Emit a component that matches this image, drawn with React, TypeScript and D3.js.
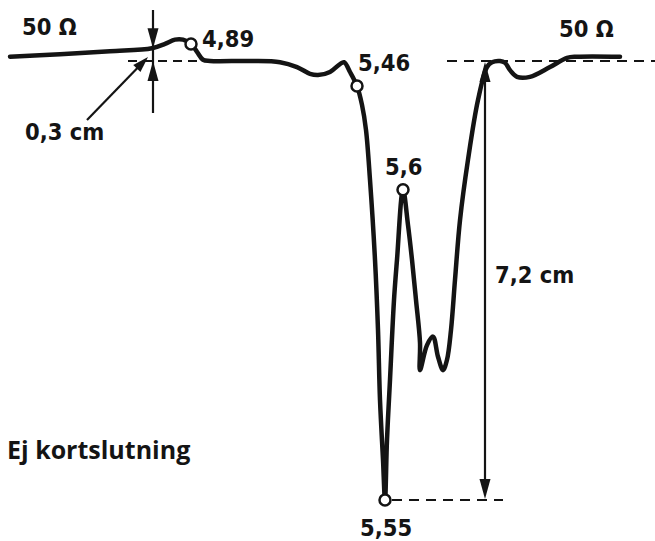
import React from 'react';
import * as d3 from 'd3';

// Trace: time (arbitrary units) vs deflection below the 50 Ω reference (cm)
const traceT = [0, 5, 10, 14.2, 15.5, 16.5, 17.3, 18.1, 18.7, 19.3, 20, 24, 27, 28.7, 30, 30.8, 32, 33, 33.4, 34, 34.7, 35.2, 35.6, 36, 36.5, 36.8, 37, 37.3, 37.5, 37.7, 38, 38.4, 38.7, 39.3, 39.8, 40.2, 40.6, 41, 41, 41.7, 42.3, 42.8, 43.3, 43.7, 44.1, 44.5, 45, 45.8, 46.8, 47.7, 48.2, 49, 49.5, 50, 50.7, 52, 54, 55.7, 56.7, 61];
const traceCm = [-0.07, -0.11, -0.16, -0.21, -0.28, -0.35, -0.35, -0.28, -0.15, -0.02, 0, 0, 0.02, 0.1, 0.21, 0.23, 0.18, 0.05, 0.02, 0.18, 0.41, 0.72, 1.13, 1.95, 3.26, 4.41, 5.56, 6.54, 7.2, 6.21, 5.23, 3.92, 3.26, 2.11, 2.69, 3.26, 3.92, 4.62, 5.07, 4.66, 4.52, 4.85, 5.07, 4.9, 4.41, 3.59, 2.61, 1.62, 0.64, 0.1, 0.02, 0, 0.03, 0.15, 0.26, 0.26, 0.1, -0.05, -0.07, -0.07];

// Marked points
const markerLabels = ['4,89', '5,46', '5,6', '5,55'];
const markerT = [18.1, 34.7, 39.3, 37.5];
const markerCm = [-0.28, 0.41, 2.11, 7.2];

// Annotations
const impedanceLabel = '50 Ω';
const offsetLabel = '0,3 cm';
const spanLabel = '7,2 cm';
const spanValue = 7.2;
const spanT = 47.5;
const offsetT = 14.3;
const offsetTop = -0.21;
const titleText = 'Ej kortslutning';

const W = 655;
const H = 541;
const ink = '#141414';

function arrowHead(tx: number, ty: number, angle: number, len = 18, half = 5.5) {
  const bx = tx - Math.cos(angle) * len;
  const by = ty - Math.sin(angle) * len;
  const px = -Math.sin(angle) * half;
  const py = Math.cos(angle) * half;
  return `M${tx},${ty}L${bx + px},${by + py}L${bx - px},${by - py}Z`;
}

export default function App() {
  const x = d3.scaleLinear().domain([0, 64]).range([10, 650]);
  const y = d3.scaleLinear().domain([0, spanValue]).range([61, 500]);

  const pts: [number, number][] = traceT.map((t, i) => [x(t), y(traceCm[i])]);
  const line = d3.line().curve(d3.curveCatmullRom.alpha(0.5));
  const d = line(pts) || '';

  const font = "'DejaVu Sans Condensed', 'Open Sans', sans-serif";
  const labelStyle: React.CSSProperties = { fontFamily: font, fontWeight: 700, fontSize: 23.5, fill: ink, fontStretch: 'condensed' };

  const ax = x(spanT);
  const ox = x(offsetT);

  const lx1 = 87, ly1 = 120, lx2 = ox - 5, ly2 = y(0) - 4;
  const la = Math.atan2(ly2 - ly1, lx2 - lx1);

  const markerOffsets: [number, number][] = [[11, 3], [1, -15], [-18, -15], [-25, 36]];

  return (
    <svg width={W} height={H} style={{ position: 'absolute', left: 0, top: 0, background: '#fff' }}>
      <rect width={W} height={H} fill="#fff" />
      {/* dashed reference lines */}
      <line x1={x(11.8)} x2={x(19)} y1={y(0)} y2={y(0)} stroke={ink} strokeWidth={2} strokeDasharray="9 6" />
      <line x1={x(43.7)} x2={W} y1={y(0)} y2={y(0)} stroke={ink} strokeWidth={2.2} strokeDasharray="10 7" />
      <line x1={x(37.5) + 7} x2={x(49.3)} y1={y(spanValue)} y2={y(spanValue)} stroke={ink} strokeWidth={2.2} strokeDasharray="10 7" />

      {/* trace */}
      <path d={d} fill="none" stroke={ink} strokeWidth={4.5} strokeLinejoin="round" strokeLinecap="round" />

      {/* 7.2 cm span arrow */}
      <line x1={ax} x2={ax} y1={y(0) + 10} y2={y(spanValue) - 10} stroke={ink} strokeWidth={2.2} />
      <path d={arrowHead(ax, y(0) + 1, -Math.PI / 2, 20, 5.5)} fill={ink} />
      <path d={arrowHead(ax, y(spanValue) - 1, Math.PI / 2, 20, 5.5)} fill={ink} />
      <text x={495} y={283} style={labelStyle}>{spanLabel}</text>

      {/* 0.3 cm offset marker */}
      <line x1={ox} x2={ox} y1={10} y2={113} stroke={ink} strokeWidth={2.2} />
      <path d={arrowHead(ox, y(offsetTop), Math.PI / 2, 20, 5.5)} fill={ink} />
      <path d={arrowHead(ox, y(0), -Math.PI / 2, 20, 5.5)} fill={ink} />
      <line x1={lx1} y1={ly1} x2={lx2 - Math.cos(la) * 10} y2={ly2 - Math.sin(la) * 10} stroke={ink} strokeWidth={2.2} />
      <path d={arrowHead(lx2, ly2, la, 16, 5)} fill={ink} />
      <text x={25} y={140} style={labelStyle}>{offsetLabel}</text>

      {/* markers */}
      {markerT.map((t, i) => (
        <g key={i}>
          <circle cx={x(t)} cy={y(markerCm[i])} r={5.5} fill="#fff" stroke={ink} strokeWidth={2.5} />
          <text x={x(t) + markerOffsets[i][0]} y={y(markerCm[i]) + markerOffsets[i][1]} style={labelStyle}>{markerLabels[i]}</text>
        </g>
      ))}

      {/* impedance labels */}
      <text x={22} y={35} style={labelStyle}>{impedanceLabel}</text>
      <text x={559} y={37} style={labelStyle}>{impedanceLabel}</text>

      <text x={7} y={459} style={{ fontFamily: "'Open Sans', sans-serif", fontWeight: 700, fontSize: 25, fill: ink }}>{titleText}</text>
    </svg>
  );
}
